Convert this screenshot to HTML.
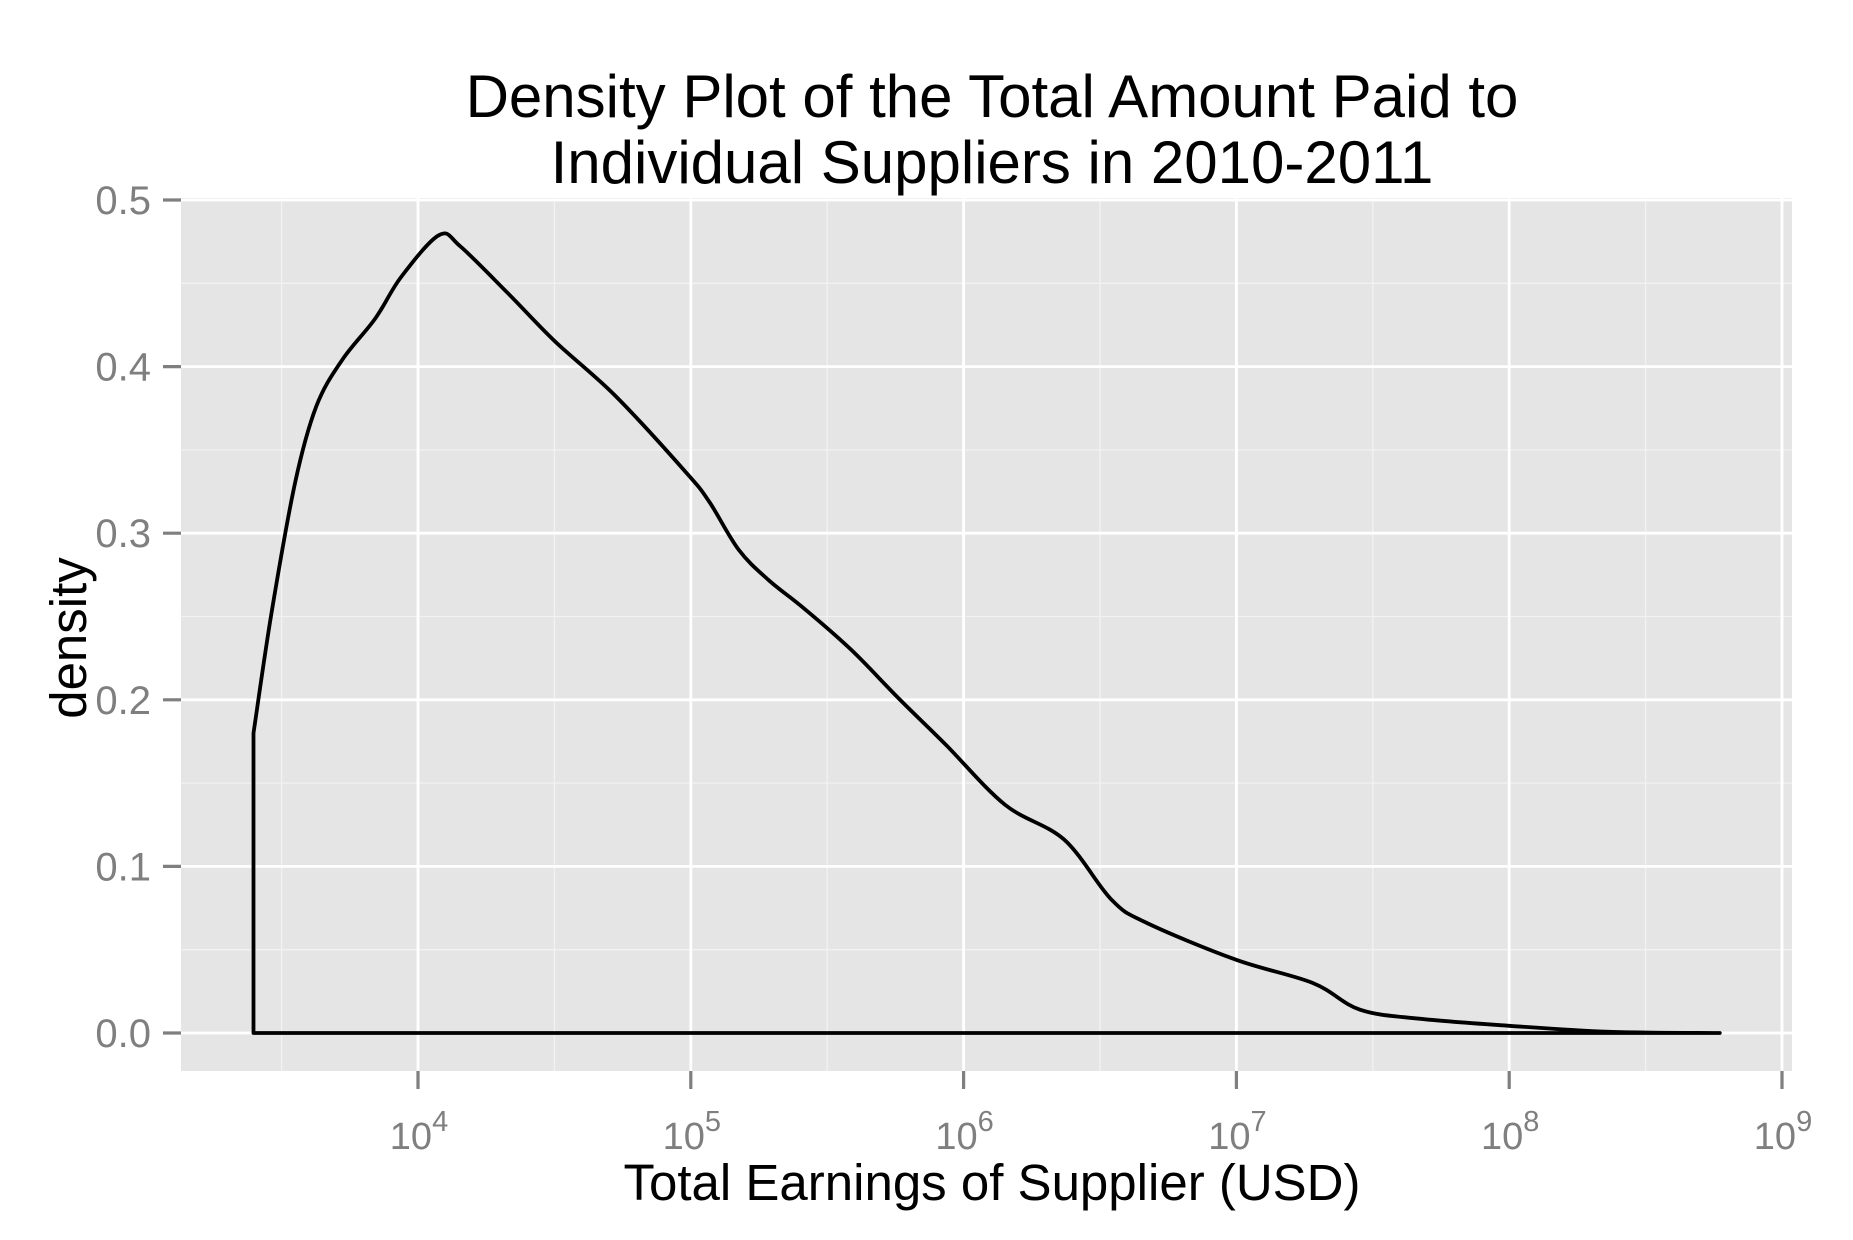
<!DOCTYPE html>
<html><head><meta charset="utf-8"><style>
html,body{margin:0;padding:0;background:#fff;}
svg{display:block;font-family:"Liberation Sans",Arial,sans-serif;}
</style></head><body>
<svg id="chart" width="1853" height="1240" viewBox="0 0 1853 1240">
<text x="992" y="117" font-size="60" text-anchor="middle" fill="#000">Density Plot of the Total Amount Paid to</text>
<text x="992" y="183" font-size="60" text-anchor="middle" fill="#000">Individual Suppliers in 2010-2011</text>
<rect x="181" y="198" width="1611" height="873" fill="#E5E5E5"/>
<g id="grid"></g>
<g id="yaxis"></g>
<g id="xaxis"></g>
<path id="curve" fill="none" stroke="#000" stroke-width="3.8" stroke-linejoin="round"/>
<text x="992" y="1200" font-size="51" text-anchor="middle" fill="#000">Total Earnings of Supplier (USD)</text>
<text transform="translate(86,638) rotate(-90)" font-size="51" text-anchor="middle" fill="#000">density</text>
</svg>
<script>
const logX = [3.397,3.462,3.549,3.627,3.722,3.844,3.939,4.078,4.156,4.330,4.503,4.720,4.980,5.067,5.176,5.284,5.414,5.588,5.761,5.935,6.152,6.369,6.542,6.672,6.998,7.280,7.453,7.670,8.0,8.365,8.772];
const densityY = [0.18,0.251,0.33,0.376,0.404,0.429,0.454,0.479,0.472,0.444,0.415,0.383,0.337,0.319,0.290,0.272,0.255,0.230,0.201,0.173,0.137,0.116,0.080,0.066,0.044,0.030,0.014,0.0086,0.0043,0.0007,0];
const xTickExp = [4,5,6,7,8,9];
const xMinor = [3.5,4.5,5.5,6.5,7.5,8.5];
const yTicks = [0,0.1,0.2,0.3,0.4,0.5];
const yTickLabels = ["0.0","0.1","0.2","0.3","0.4","0.5"];
const yMinor = [0.05,0.15,0.25,0.35,0.45];

const NS="http://www.w3.org/2000/svg";
const X0=418, DEC=272.8, Y0=1033, YU=1666;
const PL=181, PR=1792, PT=198, PB=1071;
function sx(l){return X0+(l-4)*DEC;}
function sy(v){return Y0-v*YU;}
function mk(tag,attrs,parent){const e=document.createElementNS(NS,tag);for(const k in attrs)e.setAttribute(k,attrs[k]);parent.appendChild(e);return e;}
const grid=document.getElementById('grid'), ya=document.getElementById('yaxis'), xa=document.getElementById('xaxis');
yMinor.forEach(v=>{const e=mk('line',{x1:PL,x2:PR,y1:sy(v),y2:sy(v),stroke:'#F2F2F2','stroke-width':1.3},grid);

});
xMinor.forEach(l=>{const e=mk('line',{x1:sx(l),x2:sx(l),y1:PT,y2:PB,stroke:'#F2F2F2','stroke-width':1.3},grid);

});
yTicks.forEach((v,i)=>{const y=sy(v);
const g=mk('line',{x1:PL,x2:PR,y1:y,y2:y,stroke:'#fff','stroke-width':2.8},grid);


const t=mk('line',{x1:163,x2:181,y1:y,y2:y,stroke:'#7F7F7F','stroke-width':3.2},ya);


const tx=mk('text',{x:151,y:y+14,'font-size':40,'text-anchor':'end',fill:'#7F7F7F'},ya);tx.textContent=yTickLabels[i];

});
xTickExp.forEach(n=>{const x=sx(n);
const g=mk('line',{x1:x,x2:x,y1:PT,y2:PB,stroke:'#fff','stroke-width':2.8},grid);


const t=mk('line',{x1:x,x2:x,y1:PB,y2:PB+18,stroke:'#7F7F7F','stroke-width':3.2},xa);


const tx=mk('text',{x:x+1,y:1149,'font-size':38,'text-anchor':'middle',fill:'#7F7F7F'},xa);


const b=mk('tspan',{},tx);b.textContent='10';
const s=mk('tspan',{dy:-18,'font-size':29},tx);s.textContent=String(n);});
const pts=logX.map((l,i)=>[sx(l),sy(densityY[i])]);
let d='M'+sx(logX[0]).toFixed(1)+','+sy(0).toFixed(1)+' L'+pts[0][0].toFixed(1)+','+pts[0][1].toFixed(1);
for(let i=0;i<pts.length-1;i++){
 const p0=pts[Math.max(0,i-1)],p1=pts[i],p2=pts[i+1],p3=pts[Math.min(pts.length-1,i+2)];
 const c1=[p1[0]+(p2[0]-p0[0])/6,p1[1]+(p2[1]-p0[1])/6];
 const c2=[p2[0]-(p3[0]-p1[0])/6,p2[1]-(p3[1]-p1[1])/6];
 d+=' C'+c1[0].toFixed(1)+','+c1[1].toFixed(1)+' '+c2[0].toFixed(1)+','+c2[1].toFixed(1)+' '+p2[0].toFixed(1)+','+p2[1].toFixed(1);
}
d+=' L'+sx(logX[logX.length-1]).toFixed(1)+','+sy(0).toFixed(1)+' Z';
document.getElementById('curve').setAttribute('d',d);
</script>
</body></html>
